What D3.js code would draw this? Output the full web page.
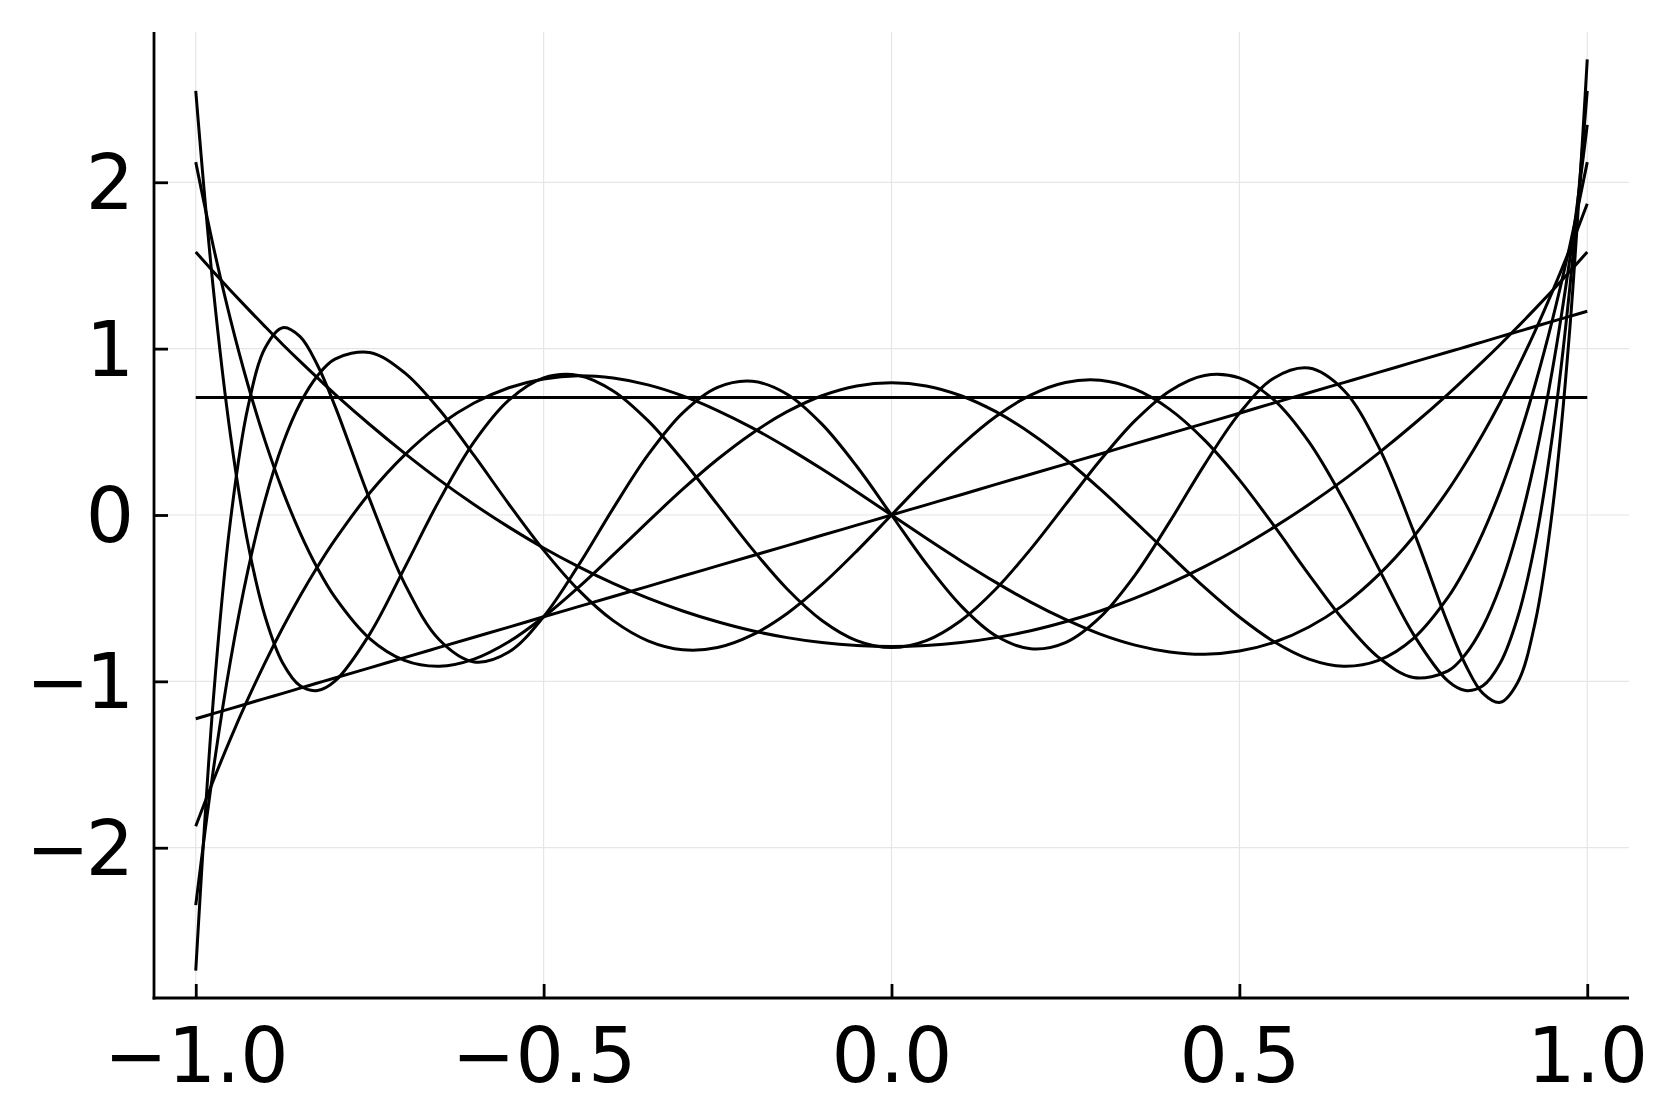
<!DOCTYPE html>
<html>
<head>
<meta charset="utf-8">
<script src="https://cdn.jsdelivr.net/npm/d3@7"></script>
<style>
    body { margin: 0; background: #fff; }
    .tick-label { font-family: 'DejaVu Sans', sans-serif; font-size: 76px; fill: #000; }
</style>
</head>
<body>
<div id="vis"></div>
<script>
// sample positions (denser near the ends where the curves get steep)
var xValues = [-1, -0.975, -0.95, -0.925, -0.9, -0.875, -0.85, -0.825, -0.8, -0.75, -0.7, -0.65, -0.6, -0.55, -0.5, -0.45, -0.4, -0.35, -0.3, -0.25, -0.2, -0.15, -0.1, -0.05,
    0, 0.05, 0.1, 0.15, 0.2, 0.25, 0.3, 0.35, 0.4, 0.45, 0.5, 0.55, 0.6, 0.65, 0.7, 0.75, 0.8, 0.825, 0.85, 0.875, 0.9, 0.925, 0.95, 0.975, 1];

var curve0 = [0.707, 0.707, 0.707, 0.707, 0.707, 0.707, 0.707, 0.707, 0.707, 0.707, 0.707, 0.707, 0.707, 0.707, 0.707, 0.707, 0.707, 0.707, 0.707, 0.707, 0.707, 0.707, 0.707, 0.707,
    0.707, 0.707, 0.707, 0.707, 0.707, 0.707, 0.707, 0.707, 0.707, 0.707, 0.707, 0.707, 0.707, 0.707, 0.707, 0.707, 0.707, 0.707, 0.707, 0.707, 0.707, 0.707, 0.707, 0.707, 0.707];
var curve1 = [-1.225, -1.194, -1.164, -1.133, -1.102, -1.072, -1.041, -1.010, -0.980, -0.919, -0.857, -0.796, -0.735, -0.674, -0.612, -0.551, -0.490, -0.429, -0.367, -0.306, -0.245, -0.184, -0.122, -0.061,
    0, 0.061, 0.122, 0.184, 0.245, 0.306, 0.367, 0.429, 0.490, 0.551, 0.612, 0.674, 0.735, 0.796, 0.857, 0.919, 0.980, 1.010, 1.041, 1.072, 1.102, 1.133, 1.164, 1.194, 1.225];
var curve2 = [1.581, 1.464, 1.350, 1.239, 1.131, 1.025, 0.923, 0.824, 0.727, 0.544, 0.372, 0.211, 0.063, -0.073, -0.198, -0.310, -0.411, -0.500, -0.577, -0.642, -0.696, -0.737, -0.767, -0.785,
    -0.791, -0.785, -0.767, -0.737, -0.696, -0.642, -0.577, -0.500, -0.411, -0.310, -0.198, -0.073, 0.063, 0.211, 0.372, 0.544, 0.727, 0.824, 0.923, 1.025, 1.131, 1.239, 1.350, 1.464, 1.581];
var curve3 = [-1.871, -1.599, -1.344, -1.106, -0.884, -0.678, -0.487, -0.311, -0.150, 0.132, 0.360, 0.540, 0.673, 0.765, 0.818, 0.837, 0.823, 0.782, 0.716, 0.628, 0.524, 0.405, 0.276, 0.140,
    0, -0.140, -0.276, -0.405, -0.524, -0.628, -0.716, -0.782, -0.823, -0.837, -0.818, -0.765, -0.673, -0.540, -0.360, -0.132, 0.150, 0.311, 0.487, 0.678, 0.884, 1.106, 1.344, 1.599, 1.871];
var curve4 = [2.121, 1.620, 1.175, 0.783, 0.441, 0.145, -0.107, -0.320, -0.494, -0.743, -0.874, -0.909, -0.866, -0.762, -0.613, -0.435, -0.240, -0.040, 0.155, 0.335, 0.492, 0.621, 0.717, 0.776,
    0.795, 0.776, 0.717, 0.621, 0.492, 0.335, 0.155, -0.040, -0.240, -0.435, -0.613, -0.762, -0.866, -0.909, -0.874, -0.743, -0.494, -0.320, -0.107, 0.145, 0.441, 0.783, 1.175, 1.620, 2.121];
var curve5 = [-2.345, -1.540, -0.874, -0.333, 0.096, 0.427, 0.670, 0.837, 0.937, 0.977, 0.856, 0.634, 0.358, 0.066, -0.211, -0.450, -0.635, -0.756, -0.810, -0.797, -0.721, -0.592, -0.419, -0.217,
    0, 0.217, 0.419, 0.592, 0.721, 0.797, 0.810, 0.756, 0.635, 0.450, 0.211, -0.066, -0.358, -0.634, -0.856, -0.977, -0.937, -0.837, -0.670, -0.427, -0.096, 0.333, 0.874, 1.540, 2.345];
var curve6 = [2.550, 1.370, 0.478, -0.171, -0.615, -0.890, -1.027, -1.055, -0.999, -0.716, -0.319, 0.088, 0.439, 0.690, 0.824, 0.839, 0.746, 0.567, 0.329, 0.062, -0.205, -0.445, -0.634, -0.755,
    -0.797, -0.755, -0.634, -0.445, -0.205, 0.062, 0.329, 0.567, 0.746, 0.839, 0.824, 0.690, 0.439, 0.088, -0.319, -0.716, -0.999, -1.055, -1.027, -0.890, -0.615, -0.171, 0.478, 1.370, 2.550];
var curve7 = [-2.739, -1.123, -0.031, 0.648, 1.007, 1.126, 1.072, 0.900, 0.656, 0.094, -0.411, -0.750, -0.883, -0.824, -0.611, -0.303, 0.040, 0.361, 0.614, 0.767, 0.804, 0.726, 0.546, 0.293,
    0, -0.293, -0.546, -0.726, -0.804, -0.767, -0.614, -0.361, -0.040, 0.303, 0.611, 0.824, 0.883, 0.750, 0.411, -0.094, -0.656, -0.900, -1.072, -1.126, -1.007, -0.648, 0.031, 1.123, 2.739];

var xTicks = [-1, -0.5, 0, 0.5, 1];
var xTickLabels = ['\u22121.0', '\u22120.5', '0.0', '0.5', '1.0'];
var yTicks = [-2, -1, 0, 1, 2];
var yTickLabels = ['\u22122', '\u22121', '0', '1', '2'];

var width = 1661;
var height = 1107;
var margin = { left: 154, right: 32, top: 32, bottom: 109 };
var drawWidth = width - margin.left - margin.right;
var drawHeight = height - margin.top - margin.bottom;

var allCurves = [curve0, curve1, curve2, curve3, curve4, curve5, curve6, curve7];

var svg = d3.select('#vis')
    .append('svg')
    .attr('width', width)
    .attr('height', height);

var g = svg.append('g')
    .attr('transform', 'translate(' + margin.left + ',' + margin.top + ')');

// 3% padding on both sides, like the plotting lib does
var xPad = 0.06;
var yMax = d3.max(allCurves, c => d3.max(c));
var yMin = d3.min(allCurves, c => d3.min(c));
var yPad = (yMax - yMin) * 0.03;

var xScale = d3.scaleLinear().domain([-1 - xPad, 1 + xPad]).range([0, drawWidth]);
var yScale = d3.scaleLinear().domain([yMin - yPad, yMax + yPad]).range([drawHeight, 0]);

// grid
g.selectAll('.xgrid').data(xTicks).enter().append('line')
    .attr('class', 'xgrid')
    .attr('x1', d => xScale(d)).attr('x2', d => xScale(d))
    .attr('y1', 0).attr('y2', drawHeight)
    .style('stroke', '#e6e6e6').style('stroke-width', 1.2);
g.selectAll('.ygrid').data(yTicks).enter().append('line')
    .attr('class', 'ygrid')
    .attr('x1', 0).attr('x2', drawWidth)
    .attr('y1', d => yScale(d)).attr('y2', d => yScale(d))
    .style('stroke', '#e6e6e6').style('stroke-width', 1.2);

// curves
var line = d3.line()
    .x((d, i) => xScale(xValues[i]))
    .y(d => yScale(d))
    .curve(d3.curveCatmullRom.alpha(0.5));

g.selectAll('.curve').data(allCurves).enter().append('path')
    .attr('class', 'curve')
    .attr('d', line)
    .style('fill', 'none')
    .style('stroke', '#000')
    .style('stroke-width', 3)
    .style('stroke-linejoin', 'round');

// axes (ticks point inward, labels drawn separately)
var xAxis = d3.axisBottom(xScale).tickValues(xTicks).tickSize(-14).tickFormat((d, i) => xTickLabels[i]).tickPadding(30);
var yAxis = d3.axisLeft(yScale).tickValues(yTicks).tickSize(-14).tickFormat((d, i) => yTickLabels[i]).tickPadding(24);

var xAxisG = g.append('g')
    .attr('transform', 'translate(0,' + drawHeight + ')')
    .call(xAxis);
var yAxisG = g.append('g')
    .call(yAxis);

[xAxisG, yAxisG].forEach(function(ax) {
    ax.select('.domain').remove();
    ax.selectAll('.tick line').style('stroke', '#000').style('stroke-width', 2.8);
    ax.selectAll('.tick text').attr('class', 'tick-label').attr('fill', null)
        .style('font-family', "'DejaVu Sans', sans-serif").style('font-size', '76px');
});
xAxisG.selectAll('.tick text').attr('dy', '0.71em');
yAxisG.selectAll('.tick text').attr('dy', '0.35em').style('letter-spacing', '-4px');

// axis spines (left and bottom only)
g.append('line').attr('x1', 0).attr('x2', 0).attr('y1', 0).attr('y2', drawHeight + 1.4)
    .style('stroke', '#000').style('stroke-width', 2.8);
g.append('line').attr('x1', -1.4).attr('x2', drawWidth).attr('y1', drawHeight).attr('y2', drawHeight)
    .style('stroke', '#000').style('stroke-width', 2.8);
</script>
</body>
</html>
